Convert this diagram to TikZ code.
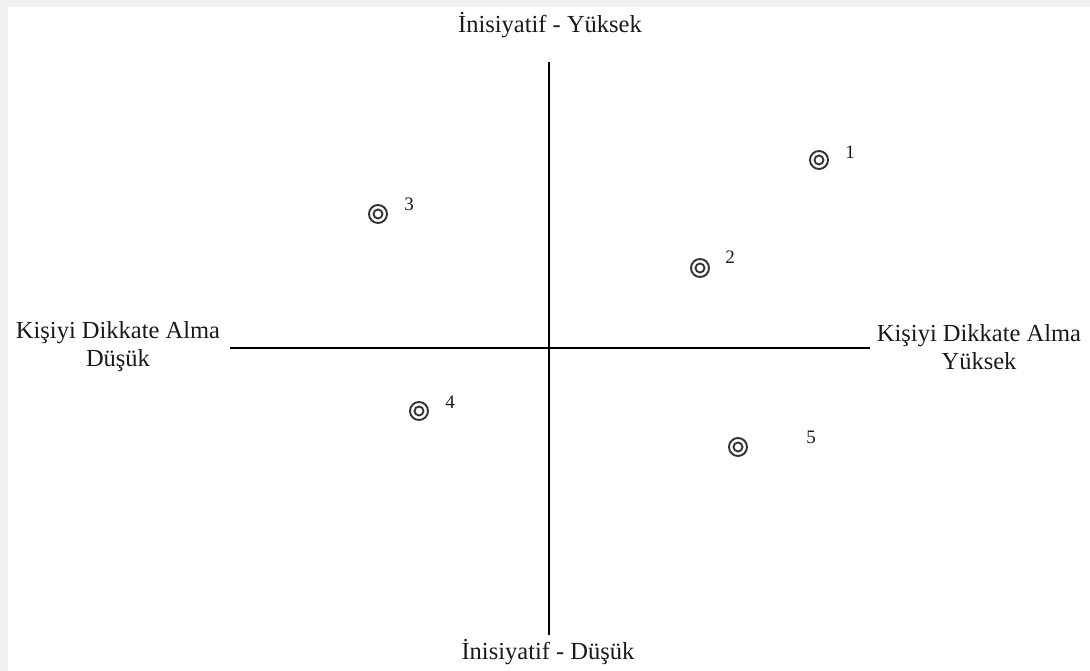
\documentclass[tikz,border=0pt]{standalone}
\usepackage{fontspec}
\setmainfont{Liberation Serif}
\begin{document}
\begin{tikzpicture}[x=1pt,y=-1pt,
  axis/.style={line width=1.5pt,black},
  lbl/.style={font=\fontsize{24.5}{28}\selectfont,text=black!90,align=center,inner sep=0pt},
  num/.style={font=\fontsize{19}{22}\selectfont,text=black!90,inner sep=0pt},
  ring/.style={draw=black!80,line width=1.9pt}]
\useasboundingbox (0,0) rectangle (1090,671);
\fill[black!6] (0,0) rectangle (1090,7);
\fill[black!6] (0,0) rectangle (8,671);
% axes
\coordinate (vt) at (549,62);
\coordinate (vb) at (549,635);
\coordinate (hl) at (230,348);
\coordinate (hr) at (870,348);
\draw[axis] (vt) -- (vb);
\draw[axis] (hl) -- (hr);
% labels
\node[lbl] (top) at (550,25) {İnisiyatif - Yüksek};
\node[lbl] (bot) at (548,652) {İnisiyatif - Düşük};
\node[lbl] (left) at (118,347) {Kişiyi Dikkate Alma\\Düşük};
\node[lbl] (right) at (979,347) {Kişiyi Dikkate Alma\\Yüksek};
% points
\foreach \n/\px/\py/\lx/\ly in {1/819/160/850/152, 2/700/268/730/257, 3/378/214/409/204, 4/419/411/450/402, 5/738/447/811/437}{
  \node[circle,ring,minimum size=18pt,inner sep=0pt] (p\n) at (\px,\py) {};
  \node[circle,ring,minimum size=9pt,inner sep=0pt] (q\n) at (\px,\py) {};
  \node[num] (n\n) at (\lx,\ly) {\n};
}
\end{tikzpicture}
\end{document}
